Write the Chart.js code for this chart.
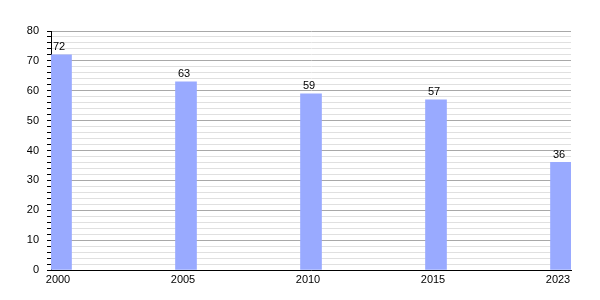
<!DOCTYPE html>
<html>
<head>
<meta charset="utf-8">
<script src="https://cdn.jsdelivr.net/npm/chart.js@4"></script>
<style>
  html, body { margin: 0; padding: 0; background: #fff; }
</style>
</head>
<body>
<canvas id="chartbar" width="600" height="300"></canvas>
<script>
const years = ['2000', '2005', '2010', '2015', '2023'];
const values = [72, 63, 59, 57, 36];
const yTicks = [0, 10, 20, 30, 40, 50, 60, 70, 80];

// draw the value above each bar
const valueLabels = {
  id: 'valueLabels',
  afterDatasetsDraw(chart) {
    const ctx = chart.ctx;
    const meta = chart.getDatasetMeta(0);
    ctx.save();
    ctx.font = '11px "Liberation Sans", Arial, sans-serif';
    ctx.fillStyle = '#000';
    ctx.textAlign = 'center';
    ctx.textBaseline = 'bottom';
    meta.data.forEach((bar, i) => {
      ctx.fillText(String(values[i]), bar.x - 2, bar.y - 2);
    });
    ctx.restore();
  }
};

const ctx = document.getElementById('chartbar').getContext('2d');

const chartbar = new Chart(ctx, {
  type: 'bar',
  data: {
    datasets: [{
      data: values.map((v, i) => ({ x: i, y: v })),
      backgroundColor: '#99aaff',
      barThickness: 21
    }]
  },
  options: {
    responsive: false,
    animation: false,
    layout: { padding: { top: 31, right: 29, left: 0, bottom: 0 } },
    plugins: {
      legend: { display: false },
      tooltip: { enabled: false }
    },
    scales: {
      x: {
        type: 'linear',
        offset: false,
        min: -0.08,
        max: 4.08,
        afterBuildTicks: (scale) => {
          scale.ticks = years.map((_, i) => ({ value: i }));
        },
        afterFit: (scale) => { scale.height = 30; },
        grid: { display: false, drawTicks: false, offset: false },
        border: { display: true, color: '#000', width: 1 },
        ticks: {
          color: '#000',
          font: { size: 11, family: '"Liberation Sans", Arial, sans-serif' },
          padding: 3,
          labelOffset: -3,
          maxRotation: 0,
          callback: (v) => years[v]
        }
      },
      y: {
        min: 0,
        max: 80,
        afterBuildTicks: (scale) => {
          const t = [];
          for (let v = 0; v <= 80; v += 2) t.push({ value: v });
          scale.ticks = t;
        },
        afterFit: (scale) => { scale.width = 51; },
        border: { display: true, color: '#000', width: 1 },
        grid: {
          color: (c) => (c.tick && c.tick.value % 10 === 0) ? '#a8a8a8' : '#e0e0e0',
          tickColor: '#000',
          tickLength: 4
        },
        ticks: {
          color: '#000',
          font: { size: 11, family: '"Liberation Sans", Arial, sans-serif' },
          padding: 8,
          autoSkip: false,
          callback: (v) => yTicks.includes(v) ? String(v) : ''
        }
      }
    }
  },
  plugins: [valueLabels]
});
</script>
</body>
</html>
